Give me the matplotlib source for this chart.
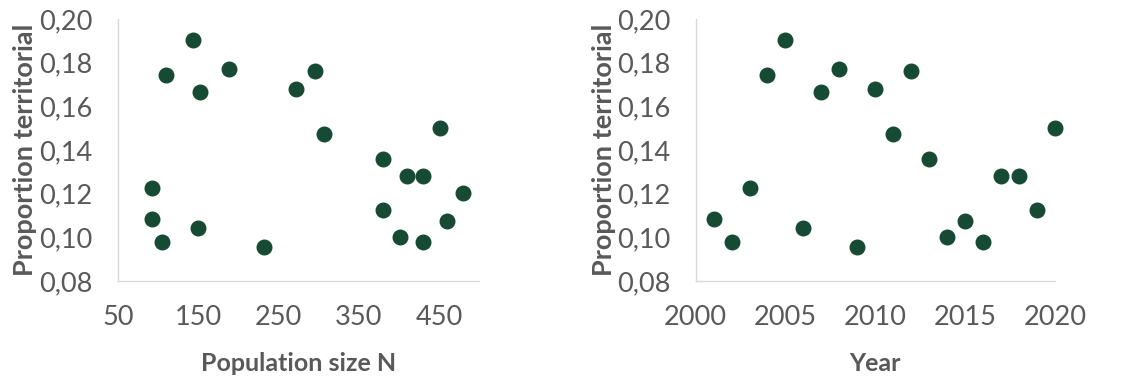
import matplotlib.pyplot as plt
from matplotlib.ticker import FuncFormatter

# Left panel: population size vs proportion territorial
pop_size = [92, 92, 105, 110, 143, 152, 150, 188, 232, 272, 295, 307,
            380, 380, 401, 410, 430, 430, 451, 460, 480]
prop_pop = [0.1227, 0.1082, 0.0979, 0.1742, 0.1902, 0.1664, 0.1044, 0.1773,
            0.0957, 0.1678, 0.1762, 0.1475, 0.1357, 0.1124, 0.1000, 0.1281,
            0.1281, 0.0979, 0.1502, 0.1075, 0.1202]

# Right panel: year vs proportion territorial
years = list(range(2001, 2021))
prop_year = [0.1082, 0.0979, 0.1227, 0.1742, 0.1902, 0.1044, 0.1664, 0.1773,
             0.0957, 0.1678, 0.1475, 0.1762, 0.1357, 0.1000, 0.1075, 0.0979,
             0.1281, 0.1281, 0.1124, 0.1502]

pop_ticks = [50, 150, 250, 350, 450]
year_ticks = [2000, 2005, 2010, 2015, 2020]
y_ticks = [0.08, 0.10, 0.12, 0.14, 0.16, 0.18, 0.20]

plt.rcParams['font.family'] = ['Lato', 'DejaVu Sans']
grey = '#595959'
dot = '#174a35'

fig = plt.figure(figsize=(11.33, 3.8), dpi=100)
ax1 = fig.add_axes([0.104, 0.2605, 0.319, 0.6895])
ax2 = fig.add_axes([0.614, 0.2605, 0.317, 0.6895])

panels = [
    (ax1, pop_size, prop_pop, pop_ticks, (50, 500), 'Population size N', -0.225),
    (ax2, years, prop_year, year_ticks, (2000, 2020), 'Year', -0.222),
]

for ax, xs, ys, xt, xlim, xlabel, ylab_x in panels:
    ax.scatter(xs, ys, s=110, color=dot, zorder=3, clip_on=False)
    ax.set_xlim(*xlim)
    ax.set_ylim(0.08, 0.20)
    ax.set_xticks(xt)
    ax.set_yticks(y_ticks)
    ax.yaxis.set_major_formatter(FuncFormatter(lambda v, p: f'{v:.2f}'.replace('.', ',')))
    for s in ['top', 'right']:
        ax.spines[s].set_visible(False)
    for s in ['left', 'bottom']:
        ax.spines[s].set_color('#d9d9d9')
        ax.spines[s].set_linewidth(1.0)
    ax.tick_params(length=0, labelsize=19.5, colors=grey)
    ax.tick_params(axis='y', pad=18)
    ax.tick_params(axis='x', pad=17)
    ax.set_xlabel(xlabel, fontsize=18, fontweight='bold', color=grey)
    ax.xaxis.set_label_coords(0.5, -0.27)
    ax.set_ylabel('Proportion territorial', fontsize=19.5, fontweight='bold', color=grey)
    ax.yaxis.set_label_coords(ylab_x, 0.5)

fig.savefig('out.png', dpi=100)
